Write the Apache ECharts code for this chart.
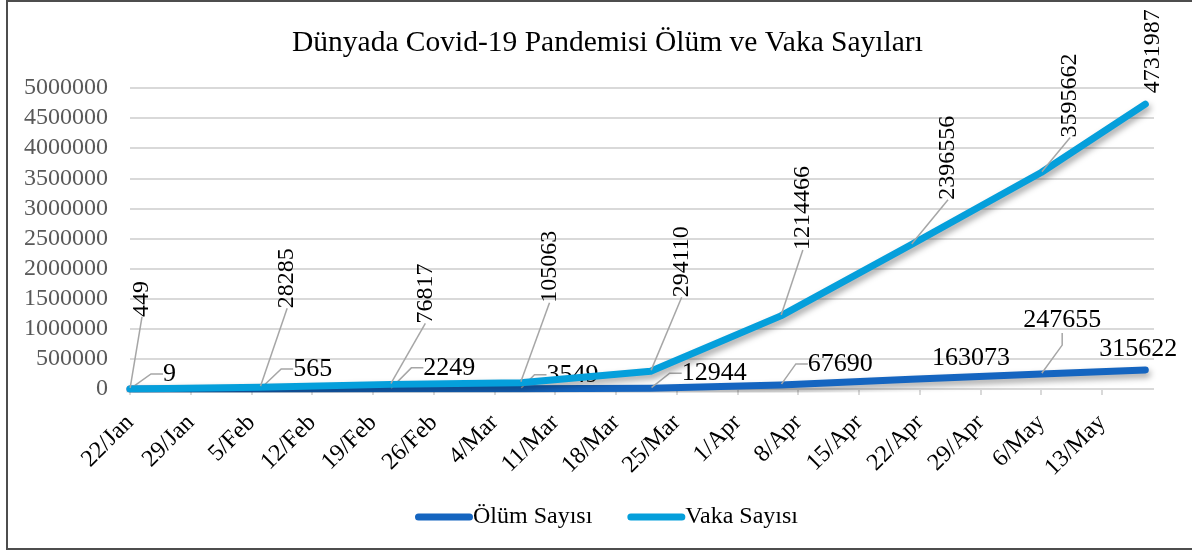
<!DOCTYPE html>
<html>
<head>
<meta charset="utf-8">
<script src="https://cdn.jsdelivr.net/npm/echarts@6/dist/echarts.min.js"></script>
<style>
html,body{margin:0;padding:0;background:#fff;}
#c{width:1192px;height:552px;}
</style>
</head>
<body>
<div id="c"></div>
<script>
// ---- data ----
const startDate = '2020-01-22';
const dates = ['2020-01-22','2020-02-06','2020-02-21','2020-03-07','2020-03-22','2020-04-06','2020-04-21','2020-05-06','2020-05-18'];
const olumSayisi = [9, 565, 2249, 3549, 12944, 67690, 163073, 247655, 315622];
const vakaSayisi = [449, 28285, 76817, 105063, 294110, 1214466, 2396556, 3595662, 4731987];
const monthNames = ['Jan','Feb','Mar','Apr','May','Jun'];
const yTicks = [0,500000,1000000,1500000,2000000,2500000,3000000,3500000,4000000,4500000,5000000];

// label placement (pixel offsets from each point, and whether a leader line is drawn)
const olumLabelPos = [[33,-15,1],[33,-20,1],[33,-21,1],[26,-14,1],[31,-15,1],[27,-21,1],[21,-21,0],[-18,-54,1],[-46,-21,0]];
const vakaLabelPos = [[12,-72,1],[27,-79,1],[35,-61,1],[29,-80,1],[31,-74,1],[22,-66,1],[37,-45,1],[29,-35,1],[7,-11,0]];

const DAY = 86400000;
const t0 = Date.parse(startDate);
const toDay = s => Math.round((Date.parse(s) - t0) / DAY);
const lastDay = toDay(dates[dates.length - 1]);
const weekTicks = [];
for (let d = 0; d <= lastDay; d += 7) weekTicks.push(d);
const fmtDay = v => { const d = new Date(t0 + v * DAY); return d.getUTCDate() + '/' + monthNames[d.getUTCMonth()]; };

const FONT = "'Liberation Serif','Times New Roman',serif";

function buildData(values, pos) {
  return values.map((v, i) => ({
    value: [toDay(dates[i]), v],
    labelLine: { show: !!pos[i][2] }
  }));
}

const chart = echarts.init(document.getElementById('c'), null, {renderer: 'canvas'});
chart.setOption({
  backgroundColor: '#fff',
  animation: false,
  title: {
    text: 'Dünyada Covid-19 Pandemisi Ölüm ve Vaka Sayıları',
    left: 287, top: 23,
    textStyle: { fontFamily: FONT, fontSize: 29.5, fontWeight: 'normal', color: '#000' }
  },
  legend: {
    left: 410, top: 500,
    itemWidth: 58, itemHeight: 7, itemGap: 35,
    icon: 'path://M3.5,0 H54.5 A3.5,3.5 0 0 1 54.5,7 H3.5 A3.5,3.5 0 0 1 3.5,0 Z',
    textStyle: { fontFamily: FONT, fontSize: 24, color: '#000', padding: [0,0,0,-5] },
    data: ['Ölüm Sayısı', 'Vaka Sayısı']
  },
  grid: { left: 130, right: 38, top: 88, bottom: 163, containLabel: false },
  xAxis: {
    type: 'value', min: 0, max: 118,
    splitLine: { show: false },
    axisLine: { show: false },
    axisTick: { show: true, length: 6, lineStyle: { color: '#d9d9d9', width: 2 }, customValues: weekTicks },
    axisLabel: {
      customValues: weekTicks,
      rotate: 45, margin: 30,
      fontFamily: FONT, fontSize: 24, color: '#000',
      formatter: v => fmtDay(v)
    }
  },
  yAxis: {
    type: 'value', min: 0, max: 5000000, interval: 500000,
    axisLine: { show: false }, axisTick: { show: false },
    splitLine: { lineStyle: { color: '#d9d9d9', width: 2 } },
    axisLabel: { margin: 22, fontFamily: FONT, fontSize: 24, color: '#595959',
      formatter: v => yTicks.indexOf(v) >= 0 ? String(v) : '' }
  },
  graphic: [{
    type: 'rect', silent: true, z: -1,
    shape: { x: 7, y: 1, width: 1300, height: 548 },
    style: { fill: 'none', stroke: '#4d4d4d', lineWidth: 2 }
  }],
  series: [
    {
      name: 'Ölüm Sayısı', type: 'line',
      data: buildData(olumSayisi, olumLabelPos),
      symbol: 'circle', symbolSize: 2, showSymbol: true,
      itemStyle: { color: '#1565c0' },
      lineStyle: { width: 7, color: '#1565c0', cap: 'round', join: 'round',
        shadowColor: 'rgba(0,0,0,0.35)', shadowBlur: 6, shadowOffsetX: 2, shadowOffsetY: 4 },
      label: { show: true, fontFamily: FONT, fontSize: 26, color: '#000',
        align: 'left', verticalAlign: 'middle', position: 'top',
        formatter: p => String(p.value[1]) },
      labelLine: { show: true, length2: 12, lineStyle: { color: '#a6a6a6', width: 1.5 } },
      labelLayout: p => {
        const o = olumLabelPos[p.dataIndex];
        const cx = p.rect.x + p.rect.width / 2, cy = p.rect.y + p.rect.height / 2;
        return { x: cx + o[0], y: cy + o[1], align: 'left', verticalAlign: 'middle' };
      },
      z: 2
    },
    {
      name: 'Vaka Sayısı', type: 'line',
      data: buildData(vakaSayisi, vakaLabelPos),
      symbol: 'circle', symbolSize: 2, showSymbol: true,
      itemStyle: { color: '#059fdb' },
      lineStyle: { width: 7, color: '#059fdb', cap: 'round', join: 'round',
        shadowColor: 'rgba(0,0,0,0.35)', shadowBlur: 6, shadowOffsetX: 2, shadowOffsetY: 4 },
      label: { show: true, fontFamily: FONT, fontSize: 24, color: '#000', rotate: 90,
        align: 'left', verticalAlign: 'middle', position: 'top',
        formatter: p => String(p.value[1]) },
      labelLine: { show: true, length2: 0, lineStyle: { color: '#a6a6a6', width: 1.5 } },
      labelLayout: p => {
        const o = vakaLabelPos[p.dataIndex];
        const cx = p.rect.x + p.rect.width / 2, cy = p.rect.y + p.rect.height / 2;
        return { x: cx + o[0], y: cy + o[1], align: 'left', verticalAlign: 'middle' };
      },
      z: 3
    }
  ]
});
</script>
</body>
</html>
